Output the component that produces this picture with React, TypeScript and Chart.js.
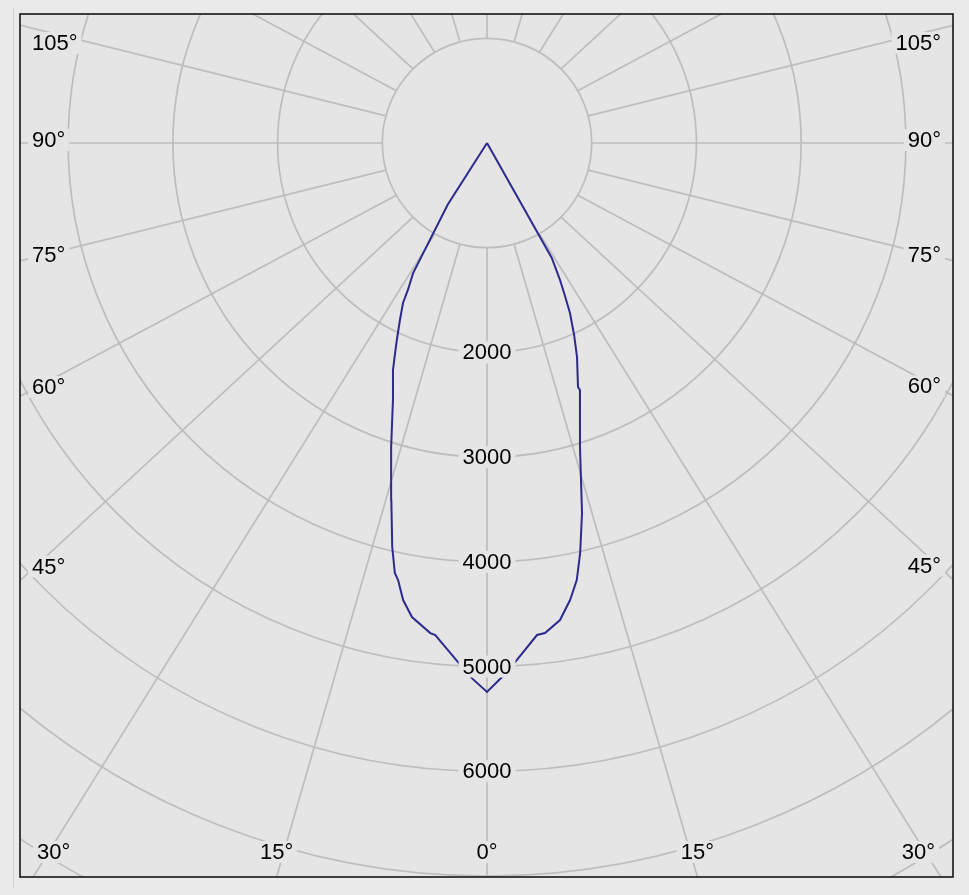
import React, { useEffect, useRef } from "react";
import { Chart, registerables } from "chart.js";

Chart.register(...registerables);

// ---- Data (luminous intensity in cd, angle in degrees measured from nadir) ----
const RIGHT_ANGLES = [0, 1.5, 3.1, 5.8, 6.75, 8.7, 10.3, 11.6, 12.8, 14.4, 17.0, 20.6, 20.45, 22.8, 24.4, 26.0, 27.0, 28.05, 29.4, 40];
const RIGHT_VALUES = [5243, 5112, 4964, 4723, 4713, 4609, 4436, 4262, 4015, 3648, 3036, 2521, 2487, 2218, 2013, 1807, 1640, 1483, 1260, 0];
const LEFT_ANGLES = [0, 1.6, 3.2, 6.0, 6.6, 9.0, 10.4, 11.5, 12.1, 13.2, 15.0, 17.5, 20.1, 22.5, 23.5, 24.6, 26.2, 27.7, 28.3, 29.6, 32.5, 40];
const LEFT_VALUES = [5243, 5115, 4965, 4725, 4712, 4584, 4438, 4260, 4200, 3964, 3531, 3045, 2614, 2347, 2207, 2069, 1884, 1726, 1594, 1429, 700, 0];

// grid rings (cd) and which ones are labelled
const RINGS = [1000, 2000, 3000, 4000, 5000, 6000, 7000, 8000, 9000];
const RING_LABELS = [2000, 3000, 4000, 5000, 6000];
// spokes every 15 degrees, labelled angles
const SPOKE_STEP = 15;
const ANGLE_LABELS = [0, 15, 30, 45, 60, 75, 90, 105];

// axis ranges (cd)
const X_MIN = -4460;
const X_MAX = 4450;
const Y_MIN = -7010;
const Y_MAX = 1232;

// ---- Styles ----
const PAGE_BG = "#eaeaea";
const PLOT_BG = "#e5e5e5";
const GRID = "#bdbdbd";
const CURVE = "#2d2a8e";
const FRAME = "#151515";
const FONT = "22px 'Liberation Sans', Arial, sans-serif";

const toRad = (d: number) => (d * Math.PI) / 180;

function buildPoints() {
  const pts: { x: number; y: number }[] = [];
  for (let i = RIGHT_ANGLES.length - 1; i >= 0; i--) {
    const t = toRad(RIGHT_ANGLES[i]);
    pts.push({ x: RIGHT_VALUES[i] * Math.sin(t), y: -RIGHT_VALUES[i] * Math.cos(t) });
  }
  for (let i = 0; i < LEFT_ANGLES.length; i++) {
    const t = toRad(LEFT_ANGLES[i]);
    pts.push({ x: -LEFT_VALUES[i] * Math.sin(t), y: -LEFT_VALUES[i] * Math.cos(t) });
  }
  return pts;
}

function labelBox(ctx: CanvasRenderingContext2D, text: string, x: number, y: number, align: CanvasTextAlign) {
  const w = ctx.measureText(text).width;
  let left = x;
  if (align === "center") left = x - w / 2;
  else if (align === "right") left = x - w;
  ctx.fillStyle = PLOT_BG;
  ctx.fillRect(left - 4, y - 11, w + 8, 22);
  ctx.fillStyle = "#000";
  ctx.textAlign = align;
  ctx.textBaseline = "middle";
  ctx.fillText(text, x, y + 1);
}

const polarGrid = {
  id: "polarGrid",
  beforeDatasetsDraw(chart: any) {
    const { ctx, chartArea: a, scales } = chart;
    const xs = scales.x;
    const ys = scales.y;
    const cx = xs.getPixelForValue(0);
    const cy = ys.getPixelForValue(0);
    const unit = (xs.getPixelForValue(1000) - cx) / 1000;
    const w = a.right - a.left;
    const h = a.bottom - a.top;
    const k = w / h;
    ctx.save();
    ctx.fillStyle = PLOT_BG;
    ctx.fillRect(a.left, a.top, w, h);
    ctx.beginPath();
    ctx.rect(a.left, a.top, w, h);
    ctx.clip();
    ctx.strokeStyle = GRID;
    ctx.lineWidth = 1.7;
    for (const r of RINGS) {
      ctx.beginPath();
      ctx.arc(cx, cy, r * unit, 0, Math.PI * 2);
      ctx.stroke();
    }
    const r0 = RINGS[0] * unit;
    for (let d = 0; d < 360; d += SPOKE_STEP) {
      const t = toRad(d);
      const sx = cx + r0 * Math.sin(t);
      const sy = cy + r0 * Math.cos(t);
      let dx = k * Math.sin(t);
      let dy = Math.cos(t);
      const n = Math.hypot(dx, dy);
      dx /= n;
      dy /= n;
      ctx.beginPath();
      ctx.moveTo(sx, sy);
      ctx.lineTo(sx + dx * 3000, sy + dy * 3000);
      ctx.stroke();
    }
    ctx.restore();
  },
  afterDatasetsDraw(chart: any) {
    const { ctx, chartArea: a, scales } = chart;
    const xs = scales.x;
    const ys = scales.y;
    const cx = xs.getPixelForValue(0);
    const cy = ys.getPixelForValue(0);
    const unit = (xs.getPixelForValue(1000) - cx) / 1000;
    const w = a.right - a.left;
    const h = a.bottom - a.top;
    const k = w / h;
    ctx.save();
    ctx.font = FONT;
    // intensity labels along the 0° spoke
    for (const v of RING_LABELS) {
      labelBox(ctx, String(v), cx, ys.getPixelForValue(-v), "center");
    }
    // angle labels
    const r0 = RINGS[0] * unit;
    for (const s of [-1, 1]) {
      for (const d of ANGLE_LABELS) {
        if (d === 0 && s === 1) continue;
        const t = toRad(d);
        const sx = cx + s * r0 * Math.sin(t);
        const sy = cy + r0 * Math.cos(t);
        const dx = s * k * Math.sin(t);
        const dy = Math.cos(t);
        const text = d + "°";
        const tw = ctx.measureText(text).width;
        const tb = dy > 0 ? (a.bottom - sy) / dy : Infinity;
        const edgeX = s > 0 ? a.right : a.left;
        const ts = dx !== 0 ? (edgeX - sx) / dx : Infinity;
        if (tb <= ts) {
          let x = sx + dx * tb;
          x = Math.max(a.left + 17 + tw / 2, Math.min(a.right - 18 - tw / 2, x));
          labelBox(ctx, text, x, a.bottom - 25, "center");
        } else {
          const lx = s > 0 ? a.right - 12 : a.left + 12;
          let y = sy + dy * ((lx - sx) / dx) - 3;
          y = Math.max(a.top + 29, y);
          labelBox(ctx, text, lx, y, s > 0 ? "right" : "left");
        }
      }
    }
    // frame
    ctx.strokeStyle = FRAME;
    ctx.lineWidth = 1.6;
    ctx.strokeRect(a.left, a.top, w, h);
    ctx.strokeStyle = "#d2d2d2";
    ctx.lineWidth = 1;
    ctx.beginPath();
    ctx.moveTo(a.left - 6.5, a.top - 6);
    ctx.lineTo(a.left - 6.5, a.bottom + 11);
    ctx.stroke();
    ctx.restore();
  },
};

export default function App() {
  const ref = useRef<HTMLCanvasElement | null>(null);
  useEffect(() => {
    if (!ref.current) return;
    const chart = new Chart(ref.current, {
      type: "scatter",
      data: {
        datasets: [
          {
            data: buildPoints(),
            showLine: true,
            borderColor: CURVE,
            borderWidth: 2,
            pointRadius: 0,
            fill: false,
            tension: 0,
          },
        ],
      },
      options: {
        animation: false,
        responsive: false,
        maintainAspectRatio: false,
        devicePixelRatio: 1,
        layout: { padding: { left: 20, top: 14, right: 16, bottom: 18 } },
        scales: {
          x: { type: "linear", min: X_MIN, max: X_MAX, display: false },
          y: { type: "linear", min: Y_MIN, max: Y_MAX, display: false },
        },
        plugins: { legend: { display: false }, tooltip: { enabled: false } },
      },
      plugins: [polarGrid],
    } as any);
    return () => chart.destroy();
  }, []);
  return (
    <div style={{ position: "fixed", left: 0, top: 0, width: 969, height: 895, background: PAGE_BG }}>
      <canvas ref={ref} width={969} height={895} style={{ width: 969, height: 895, display: "block" }} />
    </div>
  );
}
